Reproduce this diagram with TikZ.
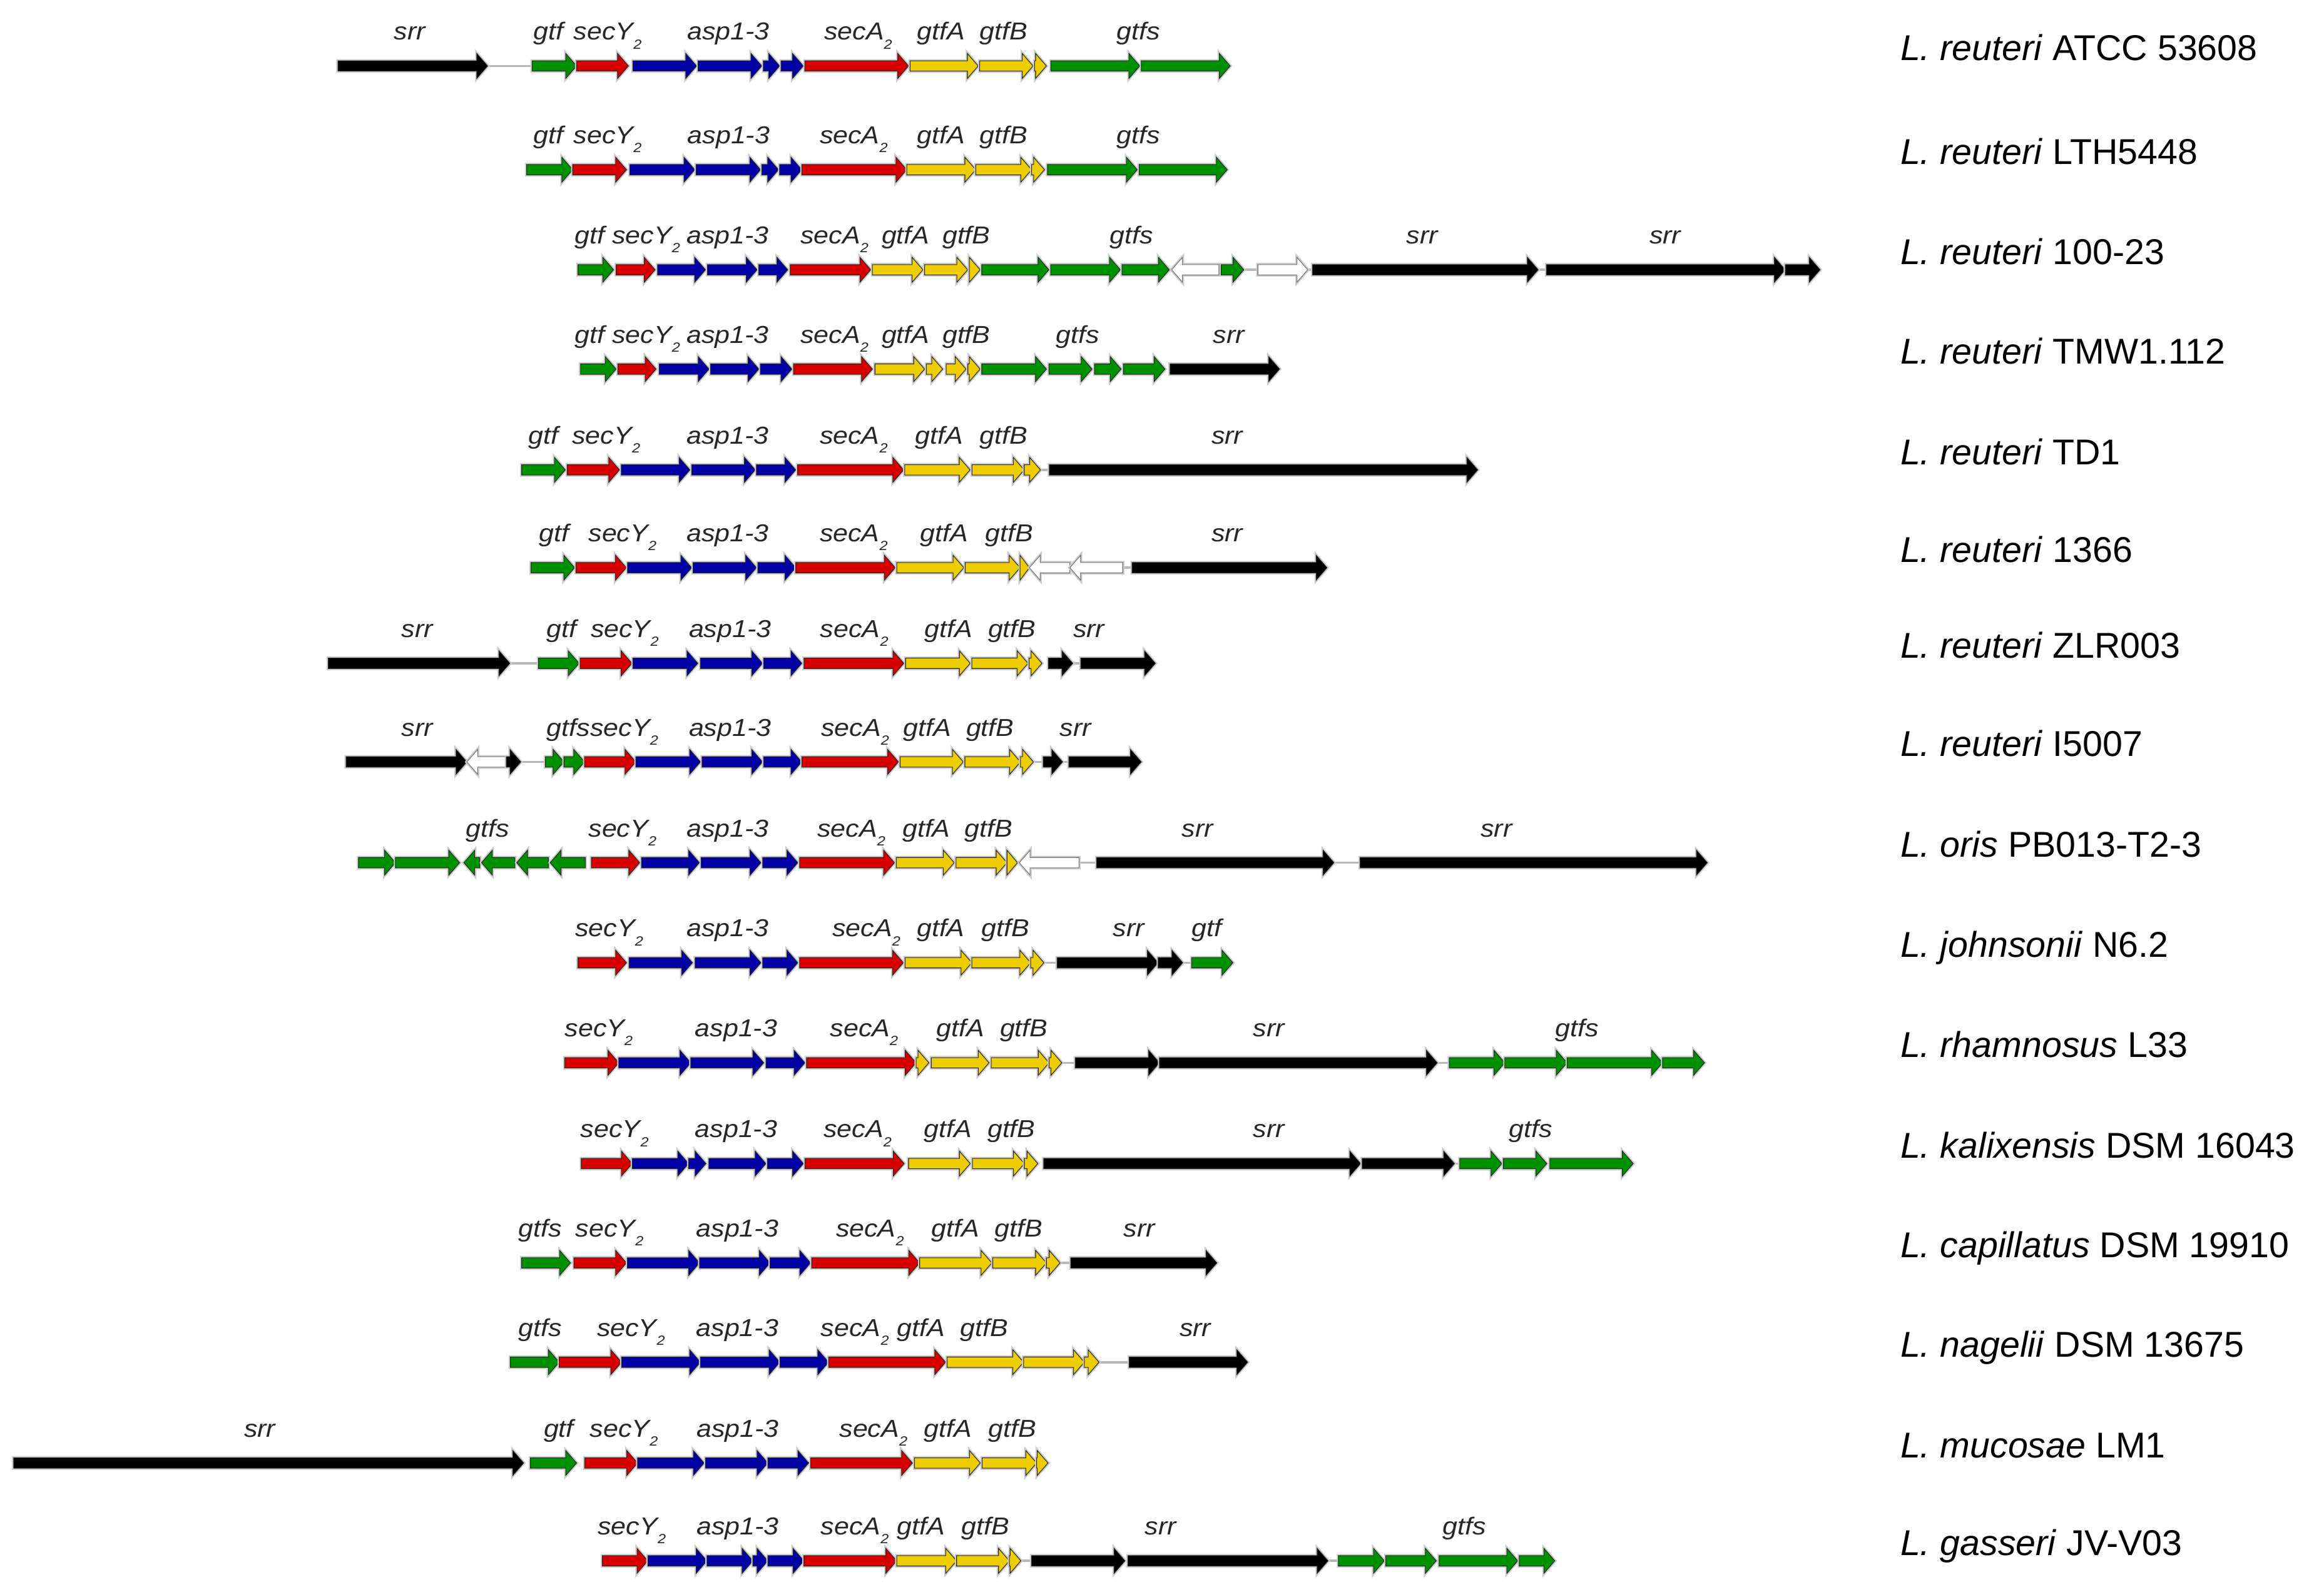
\documentclass[tikz,border=0pt]{standalone}
\usepackage{fontspec}
\setmainfont{Liberation Sans}
\definecolor{gG}{RGB}{0,145,0}
\definecolor{gR}{RGB}{215,0,0}
\definecolor{gB}{RGB}{0,0,165}
\definecolor{gY}{RGB}{238,205,0}
\definecolor{gK}{RGB}{0,0,0}
\newcounter{glc}
\newcommand\gsub[1]{\raisebox{-0.36em}{\fontsize{9}{9}\selectfont #1}}
\newcommand\secYt{secY\gsub{2}}
\newcommand\secAt{secA\gsub{2}}
\tikzset{
 genest/.style={draw=black!85, line width=0.45pt, line join=miter, preaction={draw=black!20, line width=2.2pt}},
 linkst/.style={draw=black!28, line width=1.5pt},
 glab/.style={anchor=base, inner sep=0pt, font=\fontsize{16.5}{16.5}\selectfont\itshape, text=black!85},
 slab/.style={anchor=base west, inner sep=0pt, font=\fontsize{24.2}{25}\selectfont}
}
\newcommand\gn[4]{\pgfmathsetmacro\gnh{max(#2,#3-7.3)}\draw[genest,fill=#1] (#2,#4-3.5) -- (\gnh,#4-3.5) -- (\gnh,#4-8.4) -- (#3,#4) -- (\gnh,#4+8.4) -- (\gnh,#4+3.5) -- (#2,#4+3.5) -- cycle;}
\newcommand\gnl[4]{\pgfmathsetmacro\gnh{min(#3,#2+7.3)}\draw[genest,fill=#1] (#3,#4-3.5) -- (\gnh,#4-3.5) -- (\gnh,#4-8.4) -- (#2,#4) -- (\gnh,#4+8.4) -- (\gnh,#4+3.5) -- (#3,#4+3.5) -- cycle;}
\newcommand\lk[3]{\draw[linkst] (#1,#3) -- (#2,#3);}
\newcommand\gl[3]{\stepcounter{glc}\edef\glname{gl\arabic{glc}}\node[glab] (\glname) at (#1,#2-17.5) {\scalebox{1.1}[1]{#3}};}
\begin{document}
\begin{tikzpicture}[x=1pt,y=-1pt]
\fill[white] (0,0) rectangle (1568,1074);
\useasboundingbox (0,0) rectangle (1568,1074);
% ---------- row 1
\def\Y{44.5}
\lk{329}{359}{\Y}
\gn{gK}{228}{329}{\Y}
\gn{gG}{359}{389}{\Y}
\gn{gR}{389}{424}{\Y}
\gn{gB}{427}{470}{\Y}
\gn{gB}{471}{514}{\Y}
\gn{gB}{515}{526}{\Y}
\gn{gB}{527}{542}{\Y}
\gn{gR}{543}{613}{\Y}
\gn{gY}{614}{660}{\Y}
\gn{gY}{661}{697}{\Y}
\gn{gY}{698}{706}{\Y}
\gn{gG}{709}{769}{\Y}
\gn{gG}{770}{830}{\Y}
\gl{276.5}{\Y}{srr}\gl{370}{\Y}{gtf}\gl{410}{\Y}{\secYt}\gl{491.5}{\Y}{asp1-3}\gl{579}{\Y}{\secAt}\gl{635}{\Y}{gtfA}\gl{677}{\Y}{gtfB}\gl{768}{\Y}{gtfs}
\node[slab] (sp1) at (1282,\Y-3.7) {\textit{L. reuteri} ATCC 53608};
% ---------- row 2
\def\Y{114.5}
\gn{gG}{355.3}{386.4}{\Y}
\gn{gR}{386.4}{422.7}{\Y}
\gn{gB}{425}{468.8}{\Y}
\gn{gB}{469.6}{513.2}{\Y}
\gn{gB}{514}{525.3}{\Y}
\gn{gB}{526}{541}{\Y}
\gn{gR}{541}{611.8}{\Y}
\gn{gY}{611.8}{658.3}{\Y}
\gn{gY}{658.3}{696}{\Y}
\gn{gY}{696}{704.7}{\Y}
\gn{gG}{706.7}{767.3}{\Y}
\gn{gG}{768.6}{828}{\Y}
\gl{370}{\Y}{gtf}\gl{410}{\Y}{\secYt}\gl{491.6}{\Y}{asp1-3}\gl{576}{\Y}{\secAt}\gl{635}{\Y}{gtfA}\gl{677}{\Y}{gtfB}\gl{768}{\Y}{gtfs}
\node[slab] (sp2) at (1282,\Y-3.7) {\textit{L. reuteri} LTH5448};
% ---------- row 3
\def\Y{182}
\lk{839}{849}{\Y}\lk{882}{886}{\Y}\lk{1037}{1044}{\Y}
\gn{gG}{390}{414}{\Y}
\gn{gR}{415.7}{442}{\Y}
\gn{gB}{443.7}{476}{\Y}
\gn{gB}{477.3}{510.8}{\Y}
\gn{gB}{512}{531.5}{\Y}
\gn{gR}{533.2}{587.5}{\Y}
\gn{gY}{588.6}{622.7}{\Y}
\gn{gY}{623.8}{652.9}{\Y}
\gn{gY}{654}{661.3}{\Y}
\gn{gG}{662.4}{707.7}{\Y}
\gn{gG}{708.9}{755.9}{\Y}
\gn{gG}{757}{788.9}{\Y}
\gnl{white,draw=black!55}{790.5}{822.4}{\Y}
\gn{gG}{824}{839.2}{\Y}
\gn{white,draw=black!55}{848.7}{882.3}{\Y}
\gn{gK}{885.6}{1037.8}{\Y}
\gn{gK}{1043.4}{1204.5}{\Y}
\gn{gK}{1204.5}{1228}{\Y}
\gl{398}{\Y}{gtf}\gl{436}{\Y}{\secYt}\gl{491}{\Y}{asp1-3}\gl{563}{\Y}{\secAt}\gl{611}{\Y}{gtfA}\gl{652}{\Y}{gtfB}\gl{763.5}{\Y}{gtfs}\gl{959.5}{\Y}{srr}\gl{1123.5}{\Y}{srr}
\node[slab] (sp3) at (1282,\Y-3.7) {\textit{L. reuteri} 100-23};
% ---------- row 4
\def\Y{249}
\gn{gG}{391.7}{415.7}{\Y}
\gn{gR}{416.9}{442.6}{\Y}
\gn{gB}{444.8}{478.4}{\Y}
\gn{gB}{479.5}{512}{\Y}
\gn{gB}{513}{534.3}{\Y}
\gn{gR}{535.4}{588.6}{\Y}
\gn{gY}{590.3}{623.8}{\Y}
\gn{gY}{625}{636}{\Y}
\gn{gY}{638.4}{651.8}{\Y}
\gn{gY}{653}{661.3}{\Y}
\gn{gG}{662.4}{706}{\Y}
\gn{gG}{707.7}{736.8}{\Y}
\gn{gG}{738.5}{756.4}{\Y}
\gn{gG}{758}{786}{\Y}
\gn{gK}{789.4}{863.3}{\Y}
\gl{398}{\Y}{gtf}\gl{436}{\Y}{\secYt}\gl{491}{\Y}{asp1-3}\gl{563}{\Y}{\secAt}\gl{611}{\Y}{gtfA}\gl{652}{\Y}{gtfB}\gl{727}{\Y}{gtfs}\gl{829}{\Y}{srr}
\node[slab] (sp4) at (1282,\Y-3.7) {\textit{L. reuteri} TMW1.112};
% ---------- row 5
\def\Y{317}
\lk{701}{709}{\Y}
\gn{gG}{352}{381.4}{\Y}
\gn{gR}{382.7}{418}{\Y}
\gn{gB}{419.2}{465.5}{\Y}
\gn{gB}{466.7}{509.6}{\Y}
\gn{gB}{510.4}{536.9}{\Y}
\gn{gR}{538.1}{609.7}{\Y}
\gn{gY}{610.4}{654.5}{\Y}
\gn{gY}{655.8}{691}{\Y}
\gn{gY}{691}{702}{\Y}
\gn{gK}{708}{997}{\Y}
\gl{366.5}{\Y}{gtf}\gl{409}{\Y}{\secYt}\gl{491}{\Y}{asp1-3}\gl{576}{\Y}{\secAt}\gl{633.5}{\Y}{gtfA}\gl{677}{\Y}{gtfB}\gl{828}{\Y}{srr}
\node[slab] (sp5) at (1282,\Y-3.7) {\textit{L. reuteri} TD1};
% ---------- row 6
\def\Y{383}
\lk{757}{765}{\Y}
\gn{gG}{358.3}{387.7}{\Y}
\gn{gR}{388.6}{422.6}{\Y}
\gn{gB}{423.4}{466.7}{\Y}
\gn{gB}{467.6}{510.4}{\Y}
\gn{gB}{511.3}{536.9}{\Y}
\gn{gR}{536.9}{604}{\Y}
\gn{gY}{605}{650.3}{\Y}
\gn{gY}{651.2}{688.2}{\Y}
\gn{gY}{688.2}{694.5}{\Y}
\gnl{white,draw=black!55}{694.5}{721.8}{\Y}
\gnl{white,draw=black!55}{721.8}{757.5}{\Y}
\gn{gK}{763.8}{895.3}{\Y}
\gl{374}{\Y}{gtf}\gl{420}{\Y}{\secYt}\gl{491}{\Y}{asp1-3}\gl{576}{\Y}{\secAt}\gl{637}{\Y}{gtfA}\gl{681}{\Y}{gtfB}\gl{828}{\Y}{srr}
\node[slab] (sp6) at (1282,\Y-3.7) {\textit{L. reuteri} 1366};
% ---------- row 7
\def\Y{447.5}
\lk{344}{363.4}{\Y}\lk{723}{730}{\Y}
\gn{gK}{221.5}{344}{\Y}
\gn{gG}{363.4}{390.7}{\Y}
\gn{gR}{391.4}{426.4}{\Y}
\gn{gB}{427}{470.8}{\Y}
\gn{gB}{472.6}{514.5}{\Y}
\gn{gB}{515.2}{541}{\Y}
\gn{gR}{542.5}{609.8}{\Y}
\gn{gY}{611}{654.6}{\Y}
\gn{gY}{655.7}{693.6}{\Y}
\gn{gY}{694.3}{703}{\Y}
\gn{gK}{707.4}{723.8}{\Y}
\gn{gK}{729.2}{779.5}{\Y}
\gl{281.5}{\Y}{srr}\gl{379}{\Y}{gtf}\gl{421.5}{\Y}{\secYt}\gl{492.6}{\Y}{asp1-3}\gl{576.4}{\Y}{\secAt}\gl{640}{\Y}{gtfA}\gl{682.8}{\Y}{gtfB}\gl{734.7}{\Y}{srr}
\node[slab] (sp7) at (1282,\Y-3.7) {\textit{L. reuteri} ZLR003};
% ---------- row 8
\def\Y{514}
\lk{351}{368.5}{\Y}\lk{697}{704}{\Y}\lk{716}{722}{\Y}
\gn{gK}{233.5}{315}{\Y}
\gnl{white,draw=black!55}{315}{341.6}{\Y}
\gn{gK}{341.6}{351.4}{\Y}
\gn{gG}{368}{380.5}{\Y}
\gn{gG}{380.5}{394.4}{\Y}
\gn{gR}{394.4}{429}{\Y}
\gn{gB}{429}{472.6}{\Y}
\gn{gB}{473.7}{514.5}{\Y}
\gn{gB}{515.2}{541}{\Y}
\gn{gR}{541}{606.2}{\Y}
\gn{gY}{607.3}{649.9}{\Y}
\gn{gY}{651}{688.5}{\Y}
\gn{gY}{688.5}{697.2}{\Y}
\gn{gK}{703.8}{716.9}{\Y}
\gn{gK}{721.2}{770}{\Y}
\gl{281.5}{\Y}{srr}\gl{406.5}{\Y}{gtfs\secYt}\gl{492.6}{\Y}{asp1-3}\gl{577}{\Y}{\secAt}\gl{625.5}{\Y}{gtfA}\gl{668}{\Y}{gtfB}\gl{725.6}{\Y}{srr}
\node[slab] (sp8) at (1282,\Y-3.7) {\textit{L. reuteri} I5007};
% ---------- row 9
\def\Y{582}
\lk{728}{740}{\Y}\lk{900}{918}{\Y}
\gn{gG}{241.9}{266.8}{\Y}
\gn{gG}{266.8}{310.1}{\Y}
\gnl{gG}{313}{323.7}{\Y}
\gnl{gG}{324.9}{347.4}{\Y}
\gnl{gG}{348.6}{370}{\Y}
\gnl{gG}{371.2}{394.9}{\Y}
\gn{gR}{399}{431.6}{\Y}
\gn{gB}{432.8}{471.9}{\Y}
\gn{gB}{473}{513.4}{\Y}
\gn{gB}{514.6}{538.3}{\Y}
\gn{gR}{539.5}{603.5}{\Y}
\gn{gY}{604.7}{643.8}{\Y}
\gn{gY}{645}{679.4}{\Y}
\gn{gY}{679.4}{686.5}{\Y}
\gnl{white,draw=black!55}{687.7}{728}{\Y}
\gn{gK}{739.9}{900}{\Y}
\gn{gK}{917.7}{1151.9}{\Y}
\gl{329}{\Y}{gtfs}\gl{420}{\Y}{\secYt}\gl{491}{\Y}{asp1-3}\gl{574.4}{\Y}{\secAt}\gl{625}{\Y}{gtfA}\gl{667}{\Y}{gtfB}\gl{808}{\Y}{srr}\gl{1009.6}{\Y}{srr}
\node[slab] (sp9) at (1282,\Y-3.7) {\textit{L. oris} PB013-T2-3};
% ---------- row 10
\def\Y{649.5}
\lk{704}{713.5}{\Y}\lk{798}{804.5}{\Y}
\gn{gR}{390}{422.7}{\Y}
\gn{gB}{424.5}{467.2}{\Y}
\gn{gB}{469}{513.4}{\Y}
\gn{gB}{514.6}{538.3}{\Y}
\gn{gR}{539.5}{609.5}{\Y}
\gn{gY}{610.6}{655.7}{\Y}
\gn{gY}{655.7}{695.4}{\Y}
\gn{gY}{695.4}{704.3}{\Y}
\gn{gK}{713.2}{781.4}{\Y}
\gn{gK}{781.4}{798}{\Y}
\gn{gG}{804}{831.8}{\Y}
\gl{411}{\Y}{\secYt}\gl{491}{\Y}{asp1-3}\gl{584.6}{\Y}{\secAt}\gl{634.7}{\Y}{gtfA}\gl{678.5}{\Y}{gtfB}\gl{761.5}{\Y}{srr}\gl{814}{\Y}{gtf}
\node[slab] (sp10) at (1282,\Y-3.7) {\textit{L. johnsonii} N6.2};
% ---------- row 11
\def\Y{717}
\lk{716}{726}{\Y}\lk{969.5}{978}{\Y}
\gn{gR}{381}{417.5}{\Y}
\gn{gB}{417.5}{466.1}{\Y}
\gn{gB}{466.1}{515.3}{\Y}
\gn{gB}{516.8}{543.1}{\Y}
\gn{gR}{544.2}{618.1}{\Y}
\gn{gY}{618.1}{626.7}{\Y}
\gn{gY}{628.3}{667.3}{\Y}
\gn{gY}{668.8}{707.8}{\Y}
\gn{gY}{707.8}{716.4}{\Y}
\gn{gK}{725.5}{782.3}{\Y}
\gn{gK}{782.3}{969.7}{\Y}
\gn{gG}{977.8}{1015.3}{\Y}
\gn{gG}{1015.3}{1057.3}{\Y}
\gn{gG}{1057.3}{1121.7}{\Y}
\gn{gG}{1121.7}{1150}{\Y}
\gl{404}{\Y}{\secYt}\gl{496.7}{\Y}{asp1-3}\gl{583}{\Y}{\secAt}\gl{648}{\Y}{gtfA}\gl{690.8}{\Y}{gtfB}\gl{856}{\Y}{srr}\gl{1064}{\Y}{gtfs}
\node[slab] (sp11) at (1282,\Y-3.7) {\textit{L. rhamnosus} L33};
% ---------- row 12
\def\Y{785}
\lk{981}{985.5}{\Y}
\gn{gR}{392.2}{426.6}{\Y}
\gn{gB}{426.6}{464.6}{\Y}
\gn{gB}{464.6}{476.3}{\Y}
\gn{gB}{478.3}{516.8}{\Y}
\gn{gB}{517.8}{542.1}{\Y}
\gn{gR}{543.1}{610}{\Y}
\gn{gY}{613}{654.6}{\Y}
\gn{gY}{656.1}{691.1}{\Y}
\gn{gY}{691.1}{700.2}{\Y}
\gn{gK}{704.2}{918}{\Y}
\gn{gK}{919}{981.3}{\Y}
\gn{gG}{984.9}{1013.3}{\Y}
\gn{gG}{1014.3}{1043.6}{\Y}
\gn{gG}{1045.7}{1101.9}{\Y}
\gl{414.7}{\Y}{\secYt}\gl{496.7}{\Y}{asp1-3}\gl{578.6}{\Y}{\secAt}\gl{639.4}{\Y}{gtfA}\gl{682.4}{\Y}{gtfB}\gl{856}{\Y}{srr}\gl{1032.8}{\Y}{gtfs}
\node[slab] (sp12) at (1282,\Y-3.7) {\textit{L. kalixensis} DSM 16043};
% ---------- row 13
\def\Y{852}
\lk{384}{388}{\Y}\lk{715}{723}{\Y}
\gn{gG}{352}{384.9}{\Y}
\gn{gR}{387.2}{422.7}{\Y}
\gn{gB}{423.3}{472}{\Y}
\gn{gB}{472}{519.6}{\Y}
\gn{gB}{519.6}{546.9}{\Y}
\gn{gR}{547.6}{620.5}{\Y}
\gn{gY}{620.5}{669.2}{\Y}
\gn{gY}{669.8}{706}{\Y}
\gn{gY}{706}{715.2}{\Y}
\gn{gK}{722.4}{821}{\Y}
\gl{364.5}{\Y}{gtfs}\gl{411.2}{\Y}{\secYt}\gl{497.5}{\Y}{asp1-3}\gl{587}{\Y}{\secAt}\gl{644.5}{\Y}{gtfA}\gl{687.2}{\Y}{gtfB}\gl{768.7}{\Y}{srr}
\node[slab] (sp13) at (1282,\Y-3.7) {\textit{L. capillatus} DSM 19910};
% ---------- row 14
\def\Y{919}
\lk{741}{762.5}{\Y}
\gn{gG}{344.4}{377.3}{\Y}
\gn{gR}{377.3}{419.4}{\Y}
\gn{gB}{419.4}{472.6}{\Y}
\gn{gB}{472.6}{526.2}{\Y}
\gn{gB}{526.2}{559.1}{\Y}
\gn{gR}{559.1}{638}{\Y}
\gn{gY}{639}{690.6}{\Y}
\gn{gY}{690.6}{731.6}{\Y}
\gn{gY}{731.6}{741.5}{\Y}
\gn{gK}{761.9}{841.8}{\Y}
\gl{364.5}{\Y}{gtfs}\gl{425.7}{\Y}{\secYt}\gl{497.5}{\Y}{asp1-3}\gl{576.8}{\Y}{\secAt}\gl{621.5}{\Y}{gtfA}\gl{664}{\Y}{gtfB}\gl{806.4}{\Y}{srr}
\node[slab] (sp14) at (1282,\Y-3.7) {\textit{L. nagelii} DSM 13675};
% ---------- row 15
\def\Y{987}
\gn{gK}{9.2}{353.3}{\Y}
\gn{gG}{357.9}{389}{\Y}
\gn{gR}{394.5}{430.2}{\Y}
\gn{gB}{430.2}{475.1}{\Y}
\gn{gB}{476}{518.1}{\Y}
\gn{gB}{518.1}{545.6}{\Y}
\gn{gR}{547}{615.6}{\Y}
\gn{gY}{617}{661.4}{\Y}
\gn{gY}{662.7}{699.4}{\Y}
\gn{gY}{699.4}{707.1}{\Y}
\gl{175.3}{\Y}{srr}\gl{377}{\Y}{gtf}\gl{421}{\Y}{\secYt}\gl{497.8}{\Y}{asp1-3}\gl{589.3}{\Y}{\secAt}\gl{639.6}{\Y}{gtfA}\gl{683}{\Y}{gtfB}
\node[slab] (sp15) at (1282,\Y-3.7) {\textit{L. mucosae} LM1};
% ---------- row 16
\def\Y{1053}
\lk{688}{697}{\Y}\lk{895}{904}{\Y}
\gn{gR}{406.4}{437.1}{\Y}
\gn{gB}{437.1}{477}{\Y}
\gn{gB}{477}{508}{\Y}
\gn{gB}{508}{518.1}{\Y}
\gn{gB}{518.1}{542.4}{\Y}
\gn{gR}{542.4}{605}{\Y}
\gn{gY}{605}{645.4}{\Y}
\gn{gY}{645.4}{681}{\Y}
\gn{gY}{681}{688.8}{\Y}
\gn{gK}{696}{759}{\Y}
\gn{gK}{761}{896}{\Y}
\gn{gG}{903}{934}{\Y}
\gn{gG}{935}{969}{\Y}
\gn{gG}{971}{1024}{\Y}
\gn{gG}{1025}{1049}{\Y}
\gl{426.3}{\Y}{\secYt}\gl{497.8}{\Y}{asp1-3}\gl{576.7}{\Y}{\secAt}\gl{621.3}{\Y}{gtfA}\gl{664.8}{\Y}{gtfB}\gl{783}{\Y}{srr}\gl{988}{\Y}{gtfs}
\node[slab] (sp16) at (1282,\Y-3.7) {\textit{L. gasseri} JV-V03};
\end{tikzpicture}
\end{document}
